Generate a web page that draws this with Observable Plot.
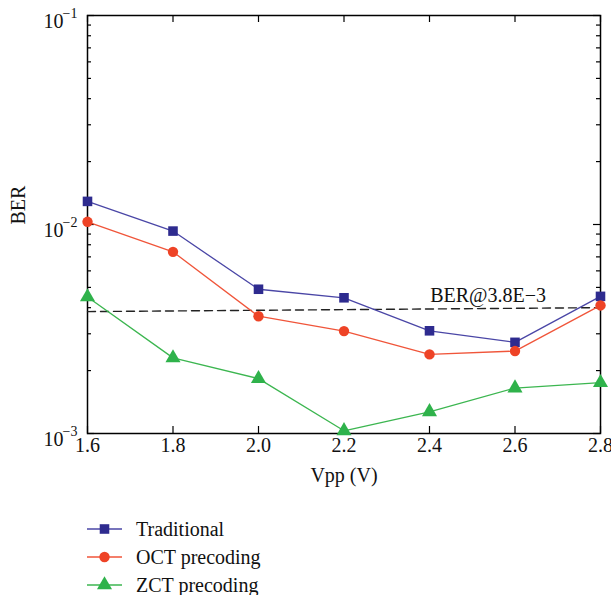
<!DOCTYPE html>
<html>
<head>
<meta charset="utf-8">
<script src="https://cdn.jsdelivr.net/npm/d3@7"></script>
<script src="https://cdn.jsdelivr.net/npm/@observablehq/plot@0.6"></script>
<style>
  body { margin: 0; background: #fff; font-family: "Liberation Serif", "Times New Roman", Times, serif; }
  #legend { padding-top: 15px; padding-left: 87px; }
  .row { display: flex; align-items: center; height: 28px; font-size: 20px; color: #111; }
  .row svg { margin-right: 13px; }
  svg text { font-family: "Liberation Serif", "Times New Roman", Times, serif; }
</style>
</head>
<body>
<div id="chart"></div>
<div id="legend"></div>
<script>
// ---- data ----
const vpp = [1.6, 1.8, 2.0, 2.2, 2.4, 2.6, 2.8];
const traditional = [0.0129, 0.0093, 0.0049, 0.00446, 0.0031, 0.00273, 0.00453];
const octPrecoding = [0.0103, 0.0074, 0.00364, 0.00309, 0.00239, 0.00248, 0.0041];
const zctPrecoding = [0.0045, 0.0023, 0.00183, 0.00103, 0.00127, 0.00165, 0.00175];
const thresholdX = [1.6, 2.8];
const thresholdY = [0.00383, 0.0040];
const thresholdLabel = "BER@3.8E\u22123";
const xTicks = [1.6, 1.8, 2.0, 2.2, 2.4, 2.6, 2.8];
const xTickLabels = ["1.6", "1.8", "2.0", "2.2", "2.4", "2.6", "2.8"];
const yMajorTicks = [0.001, 0.01, 0.1];
const yMajorExp = ["\u22123", "\u22122", "\u22121"];
const yMinorTicks = [0.002,0.003,0.004,0.005,0.006,0.007,0.008,0.009,0.02,0.03,0.04,0.05,0.06,0.07,0.08,0.09];
const seriesNames = ["Traditional", "OCT precoding", "ZCT precoding"];

// ---- styles ----
const colors = {
  "Traditional": {line: "#4a46a6", mark: "#2e2b8f", symbol: "square", r: 5.4},
  "OCT precoding": {line: "#f0553a", mark: "#ee4326", symbol: "circle", r: 5.2},
  "ZCT precoding": {line: "#3cb650", mark: "#2fb24b", symbol: "triangle", r: 5.6}
};

const rows = [];
[traditional, octPrecoding, zctPrecoding].forEach((vals, s) => {
  vals.forEach((v, i) => rows.push({series: seriesNames[s], x: vpp[i], y: v}));
});
const thr = thresholdX.map((x, i) => ({x, y: thresholdY[i]}));

const W = 611, H = 500;
const mL = 87, mR = 11, mT = 15, mB = 67;
const iw = W - mL - mR, ih = H - mT - mB;
const font = "Liberation Serif, Times New Roman, serif";
const fs = 20;

const marks = [
  Plot.frame({stroke: "#000", strokeWidth: 1.5}),
  // inward ticks
  Plot.tickX(xTicks, {x: d => d, insetTop: ih - 7, stroke: "#000", strokeWidth: 1.2}),
  Plot.tickX(xTicks, {x: d => d, insetBottom: ih - 7, stroke: "#000", strokeWidth: 1.2}),
  Plot.tickY(yMajorTicks, {y: d => d, insetRight: iw - 7, stroke: "#000", strokeWidth: 1.2}),
  Plot.tickY(yMajorTicks, {y: d => d, insetLeft: iw - 7, stroke: "#000", strokeWidth: 1.2}),
  Plot.tickY(yMinorTicks, {y: d => d, insetRight: iw - 4, stroke: "#000", strokeWidth: 1.2}),
  Plot.tickY(yMinorTicks, {y: d => d, insetLeft: iw - 4, stroke: "#000", strokeWidth: 1.2}),
  // tick labels
  Plot.text(xTicks, {x: d => d, text: (d, i) => xTickLabels[i], frameAnchor: "bottom", dy: 18, fontSize: fs, fontFamily: font, fill: "#111"}),
  Plot.text(yMajorTicks, {y: d => d, text: () => "10", frameAnchor: "left", textAnchor: "end", dx: -24, dy: 6, fontSize: fs, fontFamily: font, fill: "#111"}),
  Plot.text(yMajorTicks, {y: d => d, text: (d, i) => yMajorExp[i], frameAnchor: "left", textAnchor: "end", dx: -10, dy: -2, fontSize: 14, fontFamily: font, fill: "#111"}),
  // axis labels
  Plot.text(["Vpp (V)"], {frameAnchor: "bottom", dy: 48, fontSize: fs, fontFamily: font, fill: "#111"}),
  Plot.text(["BER"], {frameAnchor: "left", rotate: -90, dx: -69, fontSize: fs, fontFamily: font, fill: "#111"}),
  // threshold
  Plot.line(thr, {x: "x", y: "y", stroke: "#222", strokeWidth: 1.4, strokeDasharray: "8,5"}),
  Plot.text([thresholdLabel], {x: () => 2.537, y: () => 0.00457, fontSize: fs, fontFamily: font, fill: "#111"}),
];
seriesNames.forEach(name => {
  const c = colors[name];
  const d = rows.filter(r => r.series === name);
  marks.push(Plot.line(d, {x: "x", y: "y", stroke: c.line, strokeWidth: 1.3}));
});
seriesNames.forEach(name => {
  const c = colors[name];
  const d = rows.filter(r => r.series === name);
  marks.push(Plot.dot(d, {x: "x", y: "y", symbol: c.symbol, r: c.r, fill: c.mark, stroke: "none"}));
});

const chart = Plot.plot({
  width: W, height: H,
  marginLeft: mL, marginRight: mR, marginTop: mT, marginBottom: mB,
  style: {fontFamily: font, background: "#fff", overflow: "visible"},
  x: {domain: [1.6, 2.8], axis: null},
  y: {type: "log", domain: [0.001, 0.1], axis: null},
  marks
});
document.getElementById("chart").appendChild(chart);

// legend
const legend = document.getElementById("legend");
seriesNames.forEach(name => {
  const c = colors[name];
  const row = document.createElement("div");
  row.className = "row";
  const size = c.r * c.r * Math.PI;
  const sym = c.symbol === "square" ? d3.symbolSquare : c.symbol === "circle" ? d3.symbolCircle : d3.symbolTriangle;
  const path = d3.symbol(sym, size)();
  row.innerHTML = `<svg width="36" height="20"><line x1="0" y1="10" x2="35" y2="10" stroke="${c.line}" stroke-width="1.3"/><path d="${path}" transform="translate(17.5,10)" fill="${c.mark}"/></svg><span>${name}</span>`;
  legend.appendChild(row);
});
</script>
</body>
</html>
